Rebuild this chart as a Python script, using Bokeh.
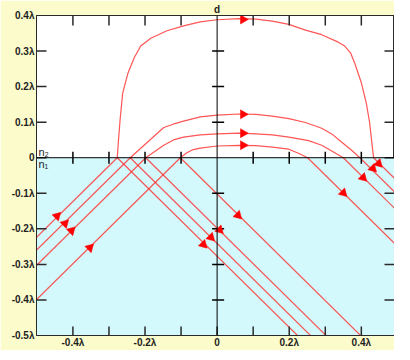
import numpy as np
from bokeh.plotting import figure
from bokeh.models import LinearAxis, FixedTicker, BoxAnnotation, Span, Range1d, Label
from bokeh.embed import file_html
from bokeh.resources import INLINE

# ---------------- data ----------------
y_ticks = [-0.5, -0.4, -0.3, -0.2, -0.1, 0.0, 0.1, 0.2, 0.3, 0.4]
y_tick_labels = ["-0.5λ", "-0.4λ", "-0.3λ", "-0.2λ", "-0.1λ", "0", "0.1λ", "0.2λ", "0.3λ", "0.4λ"]
x_major = [-0.4, -0.2, 0.0, 0.2, 0.4]
x_major_labels = ["-0.4λ", "-0.2λ", "0", "0.2λ", "0.4λ"]
x_ticks_all = [-0.4, -0.3, -0.2, -0.1, 0.0, 0.1, 0.2, 0.3, 0.4]
x_all_nonzero = [-0.4, -0.3, -0.2, -0.1, 0.1, 0.2, 0.3, 0.4]
y_inner_nonzero = [-0.4, -0.3, -0.2, -0.1, 0.1, 0.2, 0.3]
y_inner = [-0.4, -0.3, -0.2, -0.1, 0.0, 0.1, 0.2, 0.3]
top_label = "d"
medium_labels = ["n₂", "n₁"]

# entry / exit points of the rays on the interface
x_in = [-0.277, -0.241, -0.198, -0.102]
x_out = [0.434, 0.396, 0.350, 0.251]

# energy-flow paths in the upper medium
big_x = [-0.277, -0.274, -0.269, -0.262, -0.248, -0.230, -0.212, -0.184, -0.139, -0.093,
         -0.047, 0.0, 0.062, 0.108, 0.153, 0.199, 0.245, 0.290, 0.336, 0.354, 0.370,
         0.382, 0.400, 0.414, 0.423, 0.429, 0.434]
big_y = [0.0, 0.044, 0.108, 0.181, 0.236, 0.281, 0.314, 0.336, 0.357, 0.371,
         0.382, 0.388, 0.391, 0.390, 0.384, 0.375, 0.359, 0.346, 0.325, 0.314, 0.295,
         0.265, 0.211, 0.152, 0.099, 0.044, 0.0]
c2_x = [-0.241, -0.195, -0.148, -0.120, -0.093, -0.047, 0.0, 0.062, 0.108, 0.153, 0.199,
        0.245, 0.290, 0.318, 0.345, 0.373, 0.396]
c2_y = [0.0, 0.042, 0.085, 0.095, 0.103, 0.115, 0.120, 0.123, 0.122, 0.117, 0.110,
        0.099, 0.083, 0.067, 0.044, 0.021, 0.0]
c3_x = [-0.198, -0.175, -0.148, -0.121, -0.093, -0.047, 0.0, 0.062, 0.108, 0.153, 0.199,
        0.254, 0.290, 0.318, 0.350]
c3_y = [0.0, 0.016, 0.035, 0.050, 0.058, 0.064, 0.067, 0.069, 0.067, 0.064, 0.058,
        0.048, 0.035, 0.019, 0.0]
c4_x = [-0.102, -0.084, -0.066, -0.047, 0.0, 0.062, 0.108, 0.153, 0.199, 0.227, 0.251]
c4_y = [0.0, 0.014, 0.023, 0.027, 0.033, 0.035, 0.034, 0.030, 0.024, 0.012, 0.0]

# arrow heads
arr_curve_x = [0.072, 0.072, 0.072, 0.072]
arr_curve_y = [0.389, 0.122, 0.069, 0.035]
arr_inc_x = [-0.444, -0.422, -0.404, -0.353]
arr_inc_y = [-0.164, -0.185, -0.205, -0.253]
arr_refl_x = [-0.038, -0.017, 0.007, 0.058]
arr_refl_y = [-0.244, -0.224, -0.203, -0.162]
arr_out_x = [0.448, 0.432, 0.405, 0.350]
arr_out_y = [-0.0165, -0.030, -0.056, -0.099]

# ---------------- style ----------------
X_LO, X_HI, Y_LO, Y_HI = -0.501, 0.492, -0.5, 0.4
FW, FH = 358, 320
YELLOW = "#fbfbcb"
CYAN = "#d4f9fc"
RED = "#ff2a2a"
FRAME = "#2a2a2a"
FONT = "Liberation Sans"
TXT = "#1e1e1e"

p = figure(frame_width=FW, frame_height=FH,
           x_range=Range1d(X_LO, X_HI), y_range=Range1d(Y_LO, Y_HI),
           output_backend="svg", toolbar_location=None,
           x_axis_location=None, y_axis_location=None,
           min_border_left=36, min_border_top=11, min_border_bottom=0, min_border_right=0)
p.grid.visible = False
p.background_fill_color = "white"
p.border_fill_color = YELLOW
p.outline_line_color = FRAME
p.outline_line_width = 1

p.add_layout(BoxAnnotation(top=0, fill_color=CYAN, fill_alpha=1.0, line_color=None,
                           level="underlay"))


def make_axis(ticks, labels, standoff):
    ax = LinearAxis(ticker=FixedTicker(ticks=ticks, minor_ticks=[]))
    ax.major_label_overrides = dict(zip(ticks, labels))
    ax.axis_line_color = FRAME
    ax.major_tick_line_color = None
    ax.minor_tick_line_color = None
    ax.major_tick_in = 0
    ax.major_tick_out = 0
    ax.minor_tick_in = 0
    ax.minor_tick_out = 0
    ax.axis_label_standoff = 0
    ax.major_label_standoff = standoff
    ax.major_label_text_font = FONT
    ax.major_label_text_font_style = "bold"
    ax.major_label_text_font_size = "10px"
    ax.major_label_text_color = TXT
    return ax


p.add_layout(make_axis(y_ticks, y_tick_labels, 2), "left")
p.add_layout(make_axis(x_major, x_major_labels, 1), "below")
p.add_layout(make_axis([0.0], [top_label], 1), "above")

# central axes
p.add_layout(Span(location=0, dimension="height", line_color="black", line_width=1))
p.add_layout(Span(location=0, dimension="width", line_color="black", line_width=1))

# rays
xs, ys = [], []
for xi in x_in:                       # incident rays
    xs.append([xi - 0.6, xi]); ys.append([-0.6, 0.0])
for xi in x_in:                       # geometric reflections
    xs.append([xi, xi + 0.6]); ys.append([0.0, -0.6])
for xo in x_out:                      # shifted reflections
    xs.append([xo, xo + 0.6]); ys.append([0.0, -0.6])
for cx, cy in [(big_x, big_y), (c2_x, c2_y), (c3_x, c3_y), (c4_x, c4_y)]:
    xs.append(cx); ys.append(cy)
p.multi_line(xs, ys, line_color=RED, line_alpha=0.8, line_width=1.2)

# tick marks: short rays with screen-pixel lengths
def ticks(x, y, ang, length, color):
    p.ray(x=x, y=y, length=length, length_units="screen", angle=ang,
          line_color=color, line_width=1.5)

ticks([X_LO] * len(y_inner), y_inner, 0.0, 10, FRAME)                     # left edge
ticks([X_HI] * len(y_inner), y_inner, np.pi, 10, FRAME)                   # right edge
ticks(x_all_nonzero, [Y_HI] * len(x_all_nonzero), -np.pi / 2, 10, FRAME)  # top edge
ticks(x_ticks_all, [Y_LO] * len(x_ticks_all), np.pi / 2, 9, FRAME)        # bottom edge
ticks([0.0] * len(y_inner_nonzero), y_inner_nonzero, 0.0, 7, "black")
ticks([0.0] * len(y_inner_nonzero), y_inner_nonzero, np.pi, 5, "black")
ticks(x_all_nonzero, [0.0] * len(x_all_nonzero), np.pi / 2, 6, "black")
ticks(x_all_nonzero, [0.0] * len(x_all_nonzero), -np.pi / 2, 6, "black")

# arrow heads
def heads(x, y, ang):
    p.scatter(x, y, marker="triangle", size=9, angle=ang,
              fill_color="#ff0000", line_color="#ff0000", line_width=0.5)

heads(arr_curve_x, arr_curve_y, -np.pi / 2)
heads(arr_inc_x, arr_inc_y, -np.pi / 4)
heads(arr_refl_x, arr_refl_y, -3 * np.pi / 4)
heads(arr_out_x, arr_out_y, -3 * np.pi / 4)

# medium labels
p.add_layout(Label(x=X_LO, y=0, x_offset=2, text=medium_labels[0], text_baseline="bottom",
                   text_font=FONT, text_font_size="11px", text_color=TXT))
p.add_layout(Label(x=X_LO, y=0, x_offset=2, text=medium_labels[1], text_baseline="top",
                   text_font=FONT, text_font_size="11px", text_color=TXT))

open("out.html", "w").write(file_html(p, INLINE))
